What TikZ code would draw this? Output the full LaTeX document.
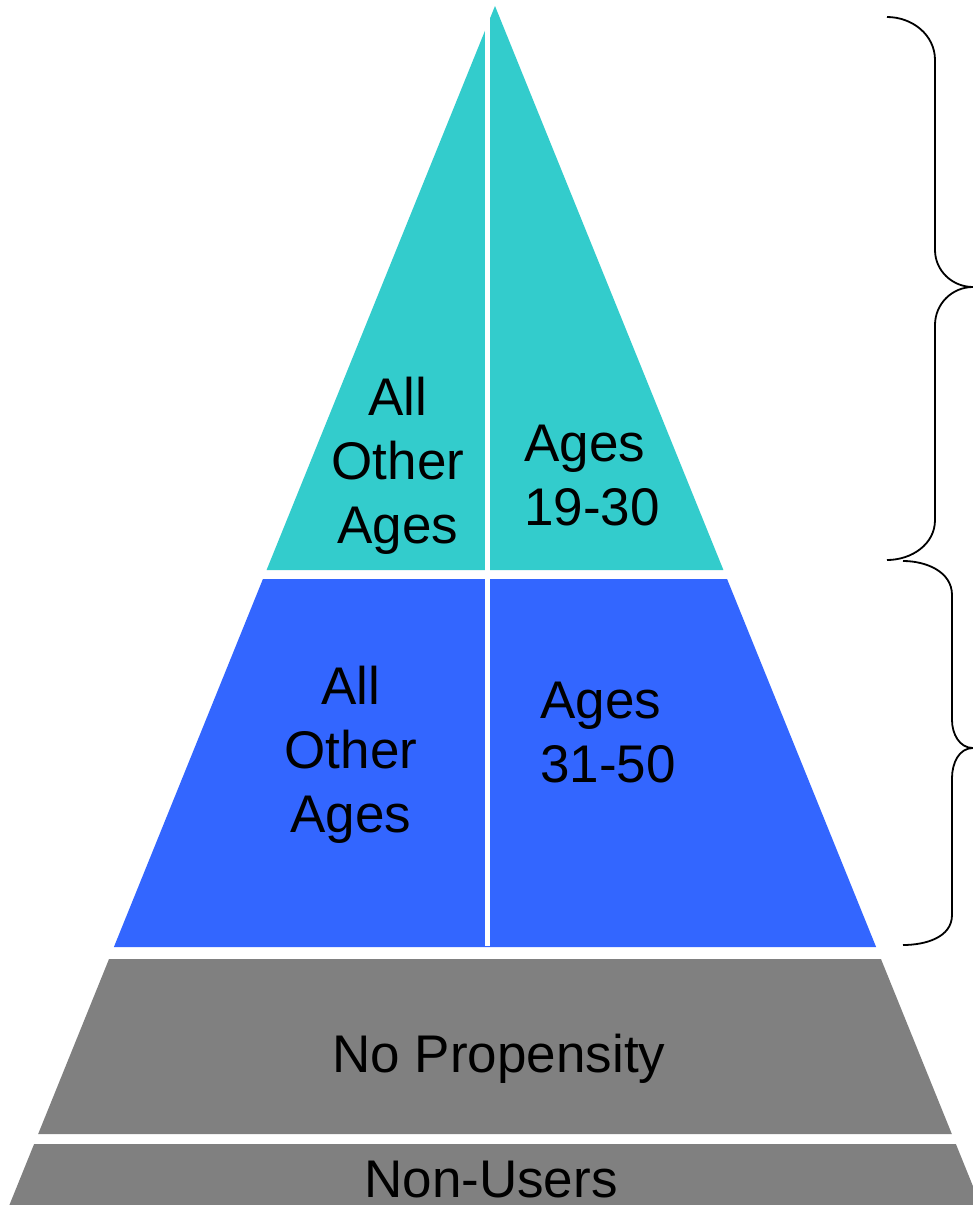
\documentclass[tikz,border=0pt]{standalone}
\usepackage{fontspec}
\setmainfont{Liberation Sans}
\usepackage{xcolor}
\usetikzlibrary{positioning}
\definecolor{tealband}{RGB}{51,204,204}
\definecolor{blueband}{RGB}{51,102,255}
\definecolor{greyband}{RGB}{128,128,128}

\begin{document}
\begin{tikzpicture}[x=0.5pt,y=-0.5pt,
  bandtext/.style={font=\fontsize{26.5}{32}\selectfont,inner sep=0pt},
  bracket/.style={draw=black,line width=0.9pt}]
\def\slope{0.405}
\clip (0,0) rectangle (973,1205);
\fill[white] (0,0) rectangle (973,1205);
% bands of the pyramid, apex at (495,6)
\foreach \ya/\yb/\col in {6/570/tealband,579/947/blueband,959/1134/greyband,1144/1230/greyband}
  \fill[\col] ({495-\slope*(\ya-6)},\ya) -- ({495+\slope*(\ya-6)},\ya)
    -- ({495+\slope*(\yb-6)},\yb) -- ({495-\slope*(\yb-6)},\yb) -- cycle;
\fill[white] (485,0) rectangle (490,946);
% texts
\node[bandtext,align=center,anchor=north] (tealother) at (398,377) {All\\Other\\Ages};
\node[bandtext,align=left,anchor=north west] (tealages) at (524,425) {Ages\\19-30};
\node[bandtext,align=center,anchor=north] (blueother) at (351,666) {All\\Other\\Ages};
\node[bandtext,align=left,anchor=north west] (blueages) at (540,682) {Ages\\31-50};
\node[bandtext,anchor=base] (nopropensity) at (499,1072) {No Propensity};
\node[bandtext,anchor=base] (nonusers) at (491,1197) {Non-Users};
% braces
\draw[bracket] (887,17) to[out=0,in=90] (935,60) -- (935,250) to[out=-90,in=180] (973,287)
  to[out=180,in=90] (935,325) -- (935,520) to[out=-90,in=0] (887,560);
\draw[bracket] (903,561) to[out=0,in=90] (952,595) -- (952,720) to[out=-90,in=180] (973,748)
  to[out=180,in=90] (952,778) -- (952,915) to[out=-90,in=0] (903,945);
\end{tikzpicture}
\end{document}
